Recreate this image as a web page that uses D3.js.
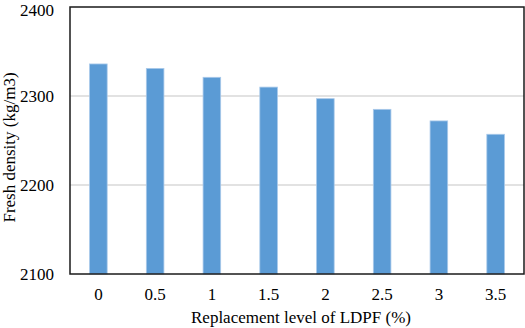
<!DOCTYPE html>
<meta charset="utf-8">
<style>
body { margin: 0; background: #fff; }
</style>
<svg width="525" height="328" id="chart"></svg>
<script src="https://cdnjs.cloudflare.com/ajax/libs/d3/7.8.5/d3.min.js"></script>
<script>
// replacement level of LDPF (%)
var levels = ["0", "0.5", "1", "1.5", "2", "2.5", "3", "3.5"];
// fresh density (kg/m3)
var density = [2336, 2331, 2321, 2310, 2297, 2285, 2272, 2257];
var yTicks = [2100, 2200, 2300, 2400];

var serif = "'Liberation Serif', 'Times New Roman', Times, serif";

var svg = d3.select("#chart"),
    margin = {top: 7, right: 1, bottom: 54, left: 70},
    width = +svg.attr("width") - margin.left - margin.right,
    height = +svg.attr("height") - margin.top - margin.bottom;

var g = svg.append("g").attr("transform", "translate(" + margin.left + "," + margin.top + ")");

var x = d3.scaleBand().domain(levels).range([0, width]).paddingInner(0.69).paddingOuter(0.345);
var y = d3.scaleLinear().domain([2100, 2400]).range([height, 0]);

// gridlines
g.selectAll(".grid").data(yTicks.slice(1, -1)).enter().append("line")
    .attr("x1", 0).attr("x2", width)
    .attr("y1", function(d) { return y(d); }).attr("y2", function(d) { return y(d); })
    .attr("stroke", "#d9d9d9").attr("stroke-width", 1.3);

// bars
g.selectAll(".bar").data(density).enter().append("rect")
    .attr("x", function(d, i) { return x(levels[i]); })
    .attr("y", function(d) { return y(d); })
    .attr("width", x.bandwidth())
    .attr("height", function(d) { return height - y(d); })
    .attr("fill", "#5b9bd5")
    .attr("stroke", "#a9c9ea").attr("stroke-width", 0.8);

// frame
g.append("rect").attr("width", width).attr("height", height)
    .attr("fill", "none").attr("stroke", "#1a1a1a").attr("stroke-width", 1.5);

var yAxis = g.append("g").call(d3.axisLeft(y).tickValues(yTicks).tickFormat(d3.format("d")).tickSize(0).tickPadding(16));
yAxis.select(".domain").remove();
// keep the top label inside the picture
yAxis.selectAll(".tick text").filter(function(d) { return d === 2400; }).attr("dy", "0.5em");

var xAxis = g.append("g").attr("transform", "translate(0," + height + ")")
    .call(d3.axisBottom(x).tickSize(0).tickPadding(14));
xAxis.select(".domain").remove();

svg.selectAll(".tick text").style("font-family", serif).style("font-size", "17px").style("fill", "#000");

svg.append("text")
    .attr("x", margin.left + width / 2 + 4).attr("y", 323)
    .attr("text-anchor", "middle")
    .style("font-family", serif).style("font-size", "17px")
    .text("Replacement level of LDPF (%)");

svg.append("text")
    .attr("transform", "translate(15," + (margin.top + height / 2 + 7) + ") rotate(-90)")
    .attr("text-anchor", "middle")
    .style("font-family", serif).style("font-size", "17px")
    .text("Fresh density (kg/m3)");
</script>
